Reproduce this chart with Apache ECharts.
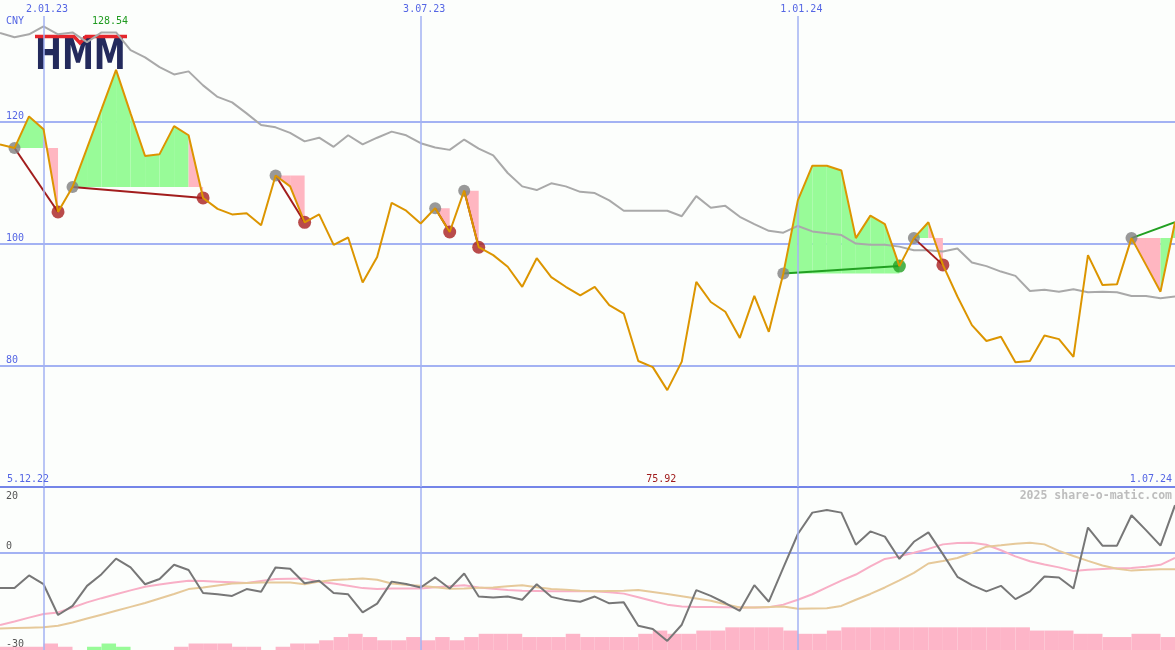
<!DOCTYPE html>
<html>
<head>
<meta charset="utf-8">
<title>HMM</title>
<script src="https://cdn.jsdelivr.net/npm/echarts@6/dist/echarts.min.js"></script>
<style>
  html, body { margin: 0; padding: 0; background: #fcfefc; }
  #chart { width: 1175px; height: 650px; }
</style>
</head>
<body>
<div id="chart"></div>
<script>
// weekly closes, first point = 12.12.22, last point = 1.07.24 (CNY)
var price = [116.3, 115.7, 120.9, 118.8, 105.2, 109.3, 115.7, 122.1, 128.54, 121.4,
  114.4, 114.7, 119.3, 117.8, 107.5, 105.7, 104.8, 105.0, 103.0, 111.2,
  109.4, 103.5, 104.8, 99.8, 101.0, 93.6, 97.8, 106.7, 105.4, 103.3,
  105.8, 101.9, 108.7, 99.4, 98.1, 96.2, 92.9, 97.6, 94.5, 92.9,
  91.5, 92.9, 89.9, 88.5, 80.7, 79.7, 75.92, 80.6, 93.7, 90.4,
  88.8, 84.5, 91.4, 85.5, 95.1, 107.1, 112.8, 112.8, 112.0, 100.9,
  104.6, 103.2, 96.3, 100.9, 103.5, 96.5, 91.3, 86.6, 84.0, 84.7,
  80.5, 80.7, 84.9, 84.3, 81.4, 98.1, 93.2, 93.3, 100.9, 96.5,
  92.1, 103.5];

// grey moving average
var avgLine = [134.6, 133.9, 134.4, 135.7, 134.4, 134.7, 133.1, 134.7, 134.7, 131.8,
  130.6, 129.0, 127.8, 128.3, 126.0, 124.1, 123.2, 121.4, 119.5, 119.1,
  118.2, 116.8, 117.4, 115.9, 117.8, 116.3, 117.4, 118.4, 117.8, 116.5,
  115.8, 115.4, 117.1, 115.6, 114.5, 111.6, 109.4, 108.8, 109.9, 109.4,
  108.5, 108.3, 107.1, 105.4, 105.4, 105.4, 105.4, 104.5, 107.8, 105.9,
  106.2, 104.4, 103.2, 102.1, 101.8, 102.9, 102.0, 101.7, 101.4, 100.0,
  99.8, 99.8, 99.5, 98.9, 98.9, 98.7, 99.2, 96.9, 96.3, 95.4,
  94.7, 92.2, 92.4, 92.1, 92.5, 92.0, 92.1, 92.0, 91.4, 91.4,
  91.0, 91.3];

// signals: entry week / exit week (last one still open)
var entryIdx = [1, 5, 19, 30, 32, 54, 63, 78];
var exitIdx = [4, 14, 21, 31, 33, 62, 65, 81];

// lower panel
var momentum = [-10.9, -10.9, -7.0, -9.7, -19.2, -16.4, -10.2, -6.6, -1.8, -4.5,
  -9.7, -8.1, -3.7, -5.3, -12.4, -12.8, -13.3, -11.2, -12.0, -4.5,
  -4.9, -9.4, -8.6, -12.4, -12.8, -18.4, -15.7, -8.9, -9.6, -10.7,
  -7.6, -11.0, -6.4, -13.5, -13.8, -13.5, -14.5, -9.7, -13.6, -14.6,
  -15.1, -13.5, -15.6, -15.3, -22.5, -23.5, -27.2, -22.2, -11.5, -13.3,
  -15.5, -17.9, -10.0, -15.1, -4.6, 5.8, 12.4, 13.2, 12.4, 2.5,
  6.6, 5.0, -1.9, 3.4, 6.3, -0.4, -7.4, -10.0, -11.9, -10.2,
  -14.3, -11.9, -7.3, -7.6, -11.0, 7.8, 2.2, 2.2, 11.6, 7.0,
  2.2, 14.7];
var signalLine = [-22.3, -21.2, -20.0, -18.9, -18.4, -16.9, -15.3, -14.0, -12.8, -11.6,
  -10.5, -9.8, -9.2, -8.6, -8.7, -8.9, -9.1, -9.3, -8.7, -8.1,
  -8.0, -7.9, -8.9, -9.5, -10.2, -10.9, -11.2, -11.0, -11.0, -11.0,
  -10.6, -10.3, -10.0, -10.7, -11.1, -11.5, -11.7, -11.8, -11.9, -11.9,
  -11.9, -11.9, -12.2, -12.6, -13.7, -14.9, -16.0, -16.6, -16.7, -16.7,
  -16.8, -16.9, -16.9, -16.8, -16.0, -14.5, -12.8, -10.7, -8.6, -6.7,
  -4.2, -1.9, -1.1, 0.0, 1.2, 2.6, 3.0, 3.1, 2.5, 0.8,
  -1.1, -2.6, -3.6, -4.5, -5.6, -5.2, -5.0, -4.8, -4.7, -4.3,
  -3.7, -1.6];
var slowLine = [-23.4, -23.2, -23.1, -23.0, -22.5, -21.5, -20.3, -19.1, -17.9, -16.7,
  -15.5, -14.1, -12.7, -11.2, -10.7, -10.1, -9.5, -9.3, -9.2, -9.2,
  -9.2, -9.7, -8.9, -8.4, -8.2, -7.9, -8.3, -9.5, -9.9, -10.2,
  -10.6, -11.1, -11.0, -10.8, -10.7, -10.3, -10.0, -10.6, -11.2, -11.4,
  -11.7, -11.9, -11.8, -11.7, -11.5, -12.1, -12.7, -13.4, -14.1, -14.8,
  -15.9, -16.9, -16.9, -16.7, -16.6, -17.3, -17.2, -17.1, -16.4, -14.5,
  -12.7, -10.7, -8.5, -6.2, -3.3, -2.5, -1.6, 0.0, 1.9, 2.3,
  2.8, 3.1, 2.6, 0.6, -1.0, -2.5, -3.9, -4.9, -5.5, -5.2,
  -5.1, -5.1];
// blocks per week, drawn up from the bottom (sign = colour)
var histogram = [-1, -1, -1, -2, -1, 0, 1, 2, 1, 0,
  0, 0, -1, -2, -2, -2, -1, -1, 0, -1,
  -2, -2, -3, -4, -5, -4, -3, -3, -4, -3,
  -4, -3, -4, -5, -5, -5, -4, -4, -4, -5,
  -4, -4, -4, -4, -5, -6, -5, -5, -6, -6,
  -7, -7, -7, -7, -6, -5, -5, -6, -7, -7,
  -7, -7, -7, -7, -7, -7, -7, -7, -7, -7,
  -7, -6, -6, -6, -5, -5, -4, -4, -5, -5,
  -4];

var dateLines = [3, 29, 55];
var dateLabels = ['2.01.23', '3.07.23', '1.01.24'];
var firstDate = '5.12.22';
var lastDate = '1.07.24';

var mono = '"DejaVu Sans Mono", monospace';
var gridBlue = '#a3b2f3';
var labelBlue = '#5566e4';
var fillGreen = '#98fb98';
var fillPink = '#ffb6c1';
var lossColor = '#a21d1d';
var winColor = '#22a022';

var priceMin = 60, priceMax = 137.4;
var oscMin = -30, oscMax = 20;
var lastIdx = price.length - 1;

function pairs(arr) {
  return arr.map(function (v, i) { return [i, v]; });
}

// trade areas, connecting lines and markers
var fillData = [];
var tradeSeries = [];
var entryPts = [], exitLoss = [], exitWin = [];
entryIdx.forEach(function (e, t) {
  var x = exitIdx[t];
  var level = price[e];
  for (var k = e; k < x; k++) {
    fillData.push([k, level, price[k], price[k + 1]]);
  }
  var win = price[x] >= level;
  tradeSeries.push({
    type: 'line', xAxisIndex: 0, yAxisIndex: 0, z: 3, silent: true,
    data: [[e, level], [x, price[x]]],
    symbol: 'none',
    lineStyle: { color: win ? winColor : lossColor, width: 2 }
  });
  entryPts.push([e, level]);
  if (x < lastIdx) (win ? exitWin : exitLoss).push([x, price[x]]);
});

function renderFill(params, api) {
  var k = api.value(0), level = api.value(1), p0 = api.value(2), p1 = api.value(3);
  return {
    type: 'polygon',
    shape: { points: [api.coord([k, level]), api.coord([k, p0]), api.coord([k + 1, p1]), api.coord([k + 1, level])] },
    style: { fill: p1 >= level ? fillGreen : fillPink }
  };
}

function renderHist(params, api) {
  var i = api.value(0), h = api.value(1);
  var a = api.coord([i, oscMin]);
  var b = api.coord([i + 1, oscMin + Math.abs(h)]);
  return {
    type: 'rect',
    shape: { x: a[0], y: b[1], width: b[0] - a[0], height: a[1] - b[1] },
    style: { fill: h > 0 ? fillGreen : '#fdb5c8' }
  };
}

var chart = echarts.init(document.getElementById('chart'));

var option = {
  animation: false,
  backgroundColor: '#fcfefc',
  textStyle: { fontFamily: mono },
  grid: [
    { left: 0, right: 0, top: 16, height: 471, outerBoundsMode: 'none' },
    { left: 0, right: 0, top: 488, bottom: 0, outerBoundsMode: 'none' }
  ],
  xAxis: [
    { gridIndex: 0, type: 'value', min: 0, max: lastIdx,
      axisLine: { show: true, onZero: false, lineStyle: { color: '#7485e8', width: 2 } },
      axisTick: { show: false }, axisLabel: { show: false }, splitLine: { show: false } },
    { gridIndex: 1, type: 'value', min: 0, max: lastIdx,
      axisLine: { show: false }, axisTick: { show: false }, axisLabel: { show: false }, splitLine: { show: false } }
  ],
  yAxis: [
    { gridIndex: 0, type: 'value', min: priceMin, max: priceMax, interval: 20,
      axisLine: { show: false }, axisTick: { show: false },
      splitLine: { show: true, showMinLine: false, showMaxLine: false, lineStyle: { color: gridBlue, width: 2 } },
      axisLabel: { inside: true, margin: 6, verticalAlign: 'bottom',
        color: labelBlue, fontFamily: mono, fontSize: 10, showMinLabel: false, showMaxLabel: false } },
    { gridIndex: 1, type: 'value', min: oscMin, max: oscMax, interval: 30,
      axisLine: { show: false }, axisTick: { show: false },
      splitLine: { show: true, showMinLine: false, showMaxLine: false, lineStyle: { color: gridBlue, width: 2 } },
      axisLabel: { inside: true, margin: 6, verticalAlign: 'bottom', verticalAlignMaxLabel: 'top',
        padding: [3, 0, 1, 0], color: '#555555', fontFamily: mono, fontSize: 10 } }
  ],
  series: [
    // date lines, upper panel
    { type: 'line', xAxisIndex: 0, yAxisIndex: 0, z: 0, silent: true, data: [[0, priceMin]],
      showSymbol: false, lineStyle: { width: 0 },
      markLine: { symbol: 'none', silent: true, animation: false,
        lineStyle: { color: gridBlue, width: 1.5, type: 'solid' },
        label: { show: true, position: 'end', distance: 2, padding: [0, 0, 0, 7], formatter: '{b}',
          color: labelBlue, fontFamily: mono, fontSize: 10 },
        data: dateLines.map(function (x, j) { return { xAxis: x, name: dateLabels[j] }; }) } },
    // date lines, lower panel
    { type: 'line', xAxisIndex: 1, yAxisIndex: 1, z: 0, silent: true, data: [[0, oscMin]],
      showSymbol: false, lineStyle: { width: 0 },
      markLine: { symbol: 'none', silent: true, animation: false,
        lineStyle: { color: gridBlue, width: 1.5, type: 'solid' }, label: { show: false },
        data: dateLines.map(function (x) { return { xAxis: x }; }) } },
    { type: 'custom', xAxisIndex: 0, yAxisIndex: 0, z: 1, silent: true, clip: true,
      renderItem: renderFill, encode: { x: 0, y: 1 }, data: fillData },
    { type: 'line', xAxisIndex: 0, yAxisIndex: 0, z: 2, silent: true, data: pairs(avgLine),
      symbol: 'none', lineStyle: { color: '#a9a9a9', width: 2 } }
  ].concat(tradeSeries).concat([
    { type: 'scatter', xAxisIndex: 0, yAxisIndex: 0, z: 4, silent: true, data: entryPts,
      symbol: 'circle', symbolSize: 12, itemStyle: { color: '#808080' } },
    { type: 'scatter', xAxisIndex: 0, yAxisIndex: 0, z: 4, silent: true, data: exitLoss,
      symbol: 'circle', symbolSize: 13, itemStyle: { color: '#a81e1e' } },
    { type: 'scatter', xAxisIndex: 0, yAxisIndex: 0, z: 4, silent: true, data: exitWin,
      symbol: 'circle', symbolSize: 13, itemStyle: { color: '#22a022' } },
    { type: 'line', xAxisIndex: 0, yAxisIndex: 0, z: 5, silent: true, data: pairs(price),
      symbol: 'none', lineStyle: { color: '#dc9500', width: 2 } },
    // lower panel
    { type: 'custom', xAxisIndex: 1, yAxisIndex: 1, z: 1, silent: true, clip: true,
      renderItem: renderHist, encode: { x: 0, y: 1 }, data: pairs(histogram) },
    { type: 'line', xAxisIndex: 1, yAxisIndex: 1, z: 2, silent: true, data: pairs(signalLine),
      symbol: 'none', lineStyle: { color: '#f8afc6', width: 2 } },
    { type: 'line', xAxisIndex: 1, yAxisIndex: 1, z: 3, silent: true, data: pairs(slowLine),
      symbol: 'none', lineStyle: { color: '#e6c99a', width: 2 } },
    { type: 'line', xAxisIndex: 1, yAxisIndex: 1, z: 4, silent: true, data: pairs(momentum),
      symbol: 'none', lineStyle: { color: '#777777', width: 2 } }
  ])
};
chart.setOption(option);

// texts: high / low and frame labels
var hi = Math.max.apply(null, price), lo = Math.min.apply(null, price);
var hiX = chart.convertToPixel({ xAxisIndex: 0 }, price.indexOf(hi));
var loX = chart.convertToPixel({ xAxisIndex: 0 }, price.indexOf(lo));

function label(text, x, y, color, align, extra) {
  var st = { text: text, x: x, y: y, fill: color, font: '10px ' + mono, align: align || 'left', verticalAlign: 'middle' };
  if (extra) for (var k in extra) st[k] = extra[k];
  return { type: 'text', silent: true, z: 50, style: st };
}

chart.setOption({
  graphic: [
    label('CNY', 6, 21, labelBlue),
    label(hi.toFixed(2), hiX - 6, 21, '#1f9a1f', 'center'),
    label(firstDate, 7, 479, labelBlue),
    label(lo.toFixed(2), loX - 6, 479, '#a01c1c', 'center'),
    label(lastDate, 1172, 479, labelBlue, 'right'),
    label('2025 share-o-matic.com', 1172, 496, '#bdbdbd', 'right', { font: 'bold 11.5px ' + mono }),
    // logo
    { type: 'group', x: 35, y: 33, z: 40, silent: true, children: [
      { type: 'text', x: 0, y: 25, scaleX: 0.73,
        style: { text: 'HMM', x: 0, y: 0, fill: '#232a5c', font: 'bold 44px "DejaVu Sans", sans-serif', verticalAlign: 'middle' } },
      { type: 'polyline', shape: { points: [[0, 3.5], [39, 3.5], [45, 10], [51, 3.5], [92, 3.5]] },
        style: { stroke: '#e5262c', lineWidth: 3.5, fill: null } }
    ] }
  ]
});
</script>
</body>
</html>
